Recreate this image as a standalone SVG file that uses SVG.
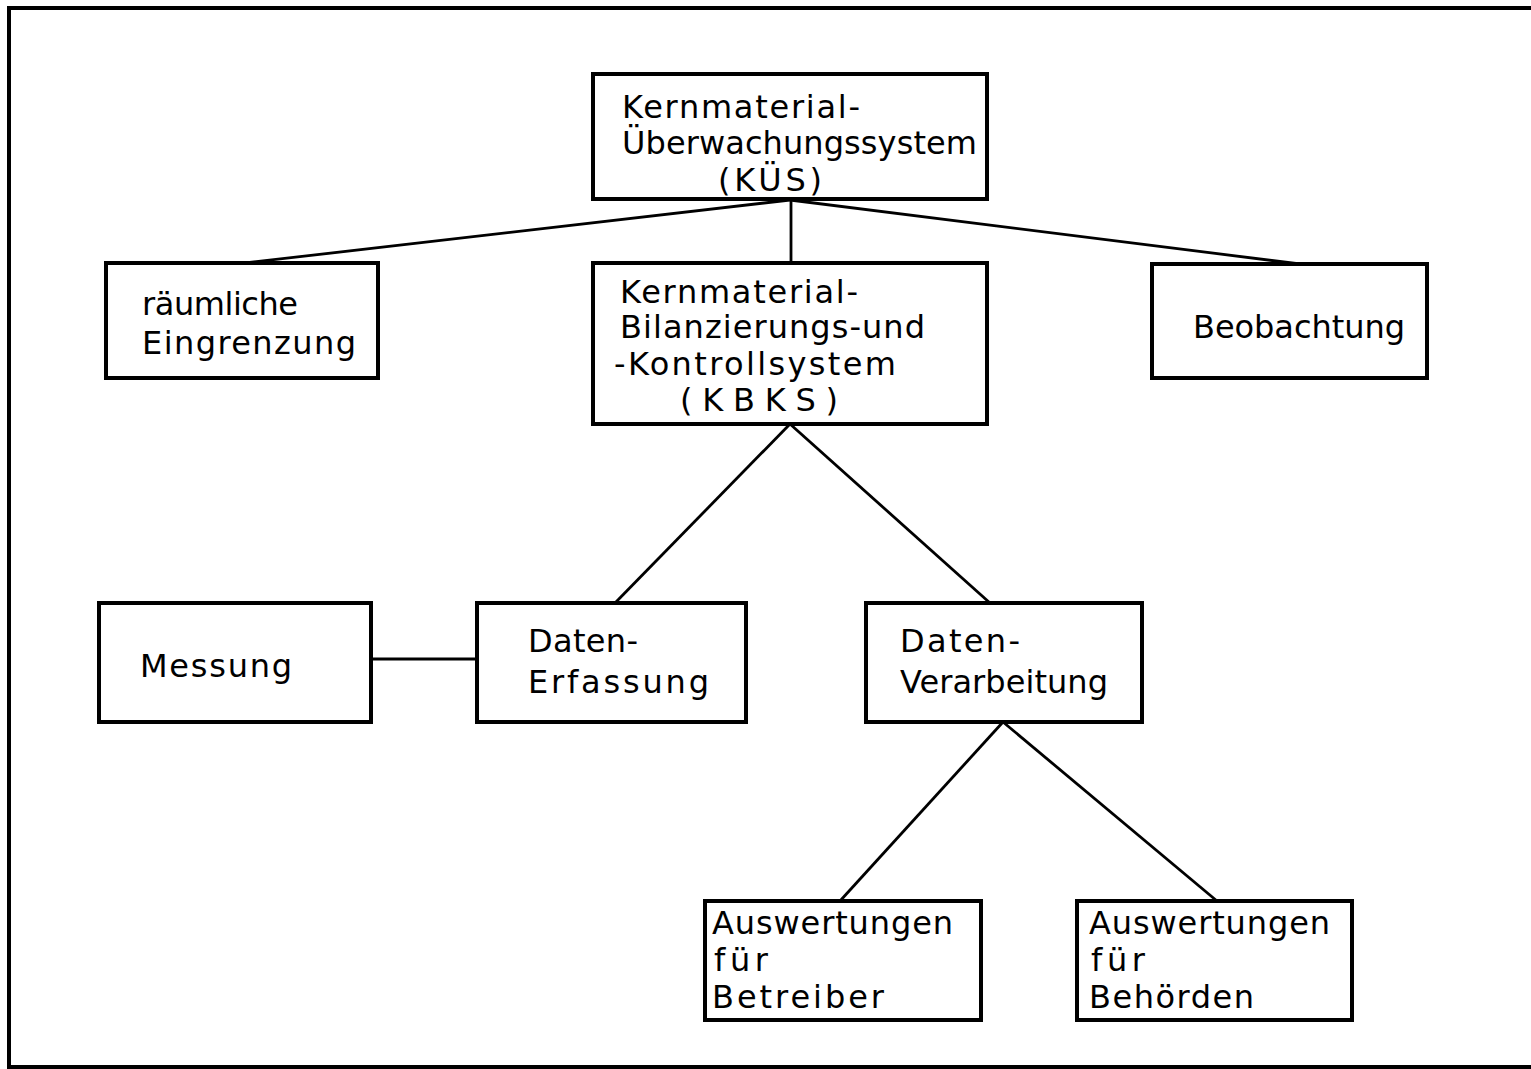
<svg xmlns="http://www.w3.org/2000/svg" width="1531" height="1069" viewBox="0 0 1531 1069">
<style>
.box{fill:#fff;stroke:#000;stroke-width:4}
.lbl{font-family:"DejaVu Sans","Liberation Sans",sans-serif;font-size:32px;fill:#000}
.con{stroke:#000;stroke-width:2.8;fill:none}
.frame{stroke:#000;stroke-width:4;fill:none}
</style>
<rect width="1531" height="1069" fill="#fff"/>
<path class="frame" d="M1531 8 H9 V1067 H1531"/>
<g id="connectors">
<line class="con" x1="790" y1="200" x2="245" y2="263"/>
<line class="con" x1="791" y1="200" x2="791" y2="263"/>
<line class="con" x1="790" y1="200" x2="1300" y2="264"/>
<line class="con" x1="790" y1="424" x2="615" y2="603"/>
<line class="con" x1="790" y1="424" x2="990" y2="603"/>
<line class="con" x1="371" y1="659" x2="477" y2="659"/>
<line class="con" x1="1003" y1="722" x2="840" y2="901"/>
<line class="con" x1="1003" y1="722" x2="1217" y2="901"/>
</g>
<g id="kues">
<rect class="box" x="593" y="74" width="394" height="125"/>
<text class="lbl" x="622" y="118" textLength="238" lengthAdjust="spacing">Kernmaterial-</text>
<text class="lbl" x="622" y="154" textLength="355" lengthAdjust="spacing">Überwachungssystem</text>
<text class="lbl" x="718" y="191" textLength="104" lengthAdjust="spacing">(KÜS)</text>
</g>
<g id="raeumlich">
<rect class="box" x="106" y="263" width="272" height="115"/>
<text class="lbl" x="142" y="315" textLength="156" lengthAdjust="spacing">räumliche</text>
<text class="lbl" x="142" y="354" textLength="214" lengthAdjust="spacing">Eingrenzung</text>
</g>
<g id="kbks">
<rect class="box" x="593" y="263" width="394" height="161"/>
<text class="lbl" x="620" y="303" textLength="238" lengthAdjust="spacing">Kernmaterial-</text>
<text class="lbl" x="620" y="338" textLength="305" lengthAdjust="spacing">Bilanzierungs-und</text>
<text class="lbl" x="614" y="375" textLength="282" lengthAdjust="spacing">-Kontrollsystem</text>
<text class="lbl" x="680" y="411" textLength="158" lengthAdjust="spacing">(KBKS)</text>
</g>
<g id="beobachtung">
<rect class="box" x="1152" y="264" width="275" height="114"/>
<text class="lbl" x="1193" y="338" textLength="212" lengthAdjust="spacing">Beobachtung</text>
</g>
<g id="messung">
<rect class="box" x="99" y="603" width="272" height="119"/>
<text class="lbl" x="140" y="677" textLength="152" lengthAdjust="spacing">Messung</text>
</g>
<g id="erfassung">
<rect class="box" x="477" y="603" width="269" height="119"/>
<text class="lbl" x="528" y="652" textLength="110" lengthAdjust="spacing">Daten-</text>
<text class="lbl" x="528" y="693" textLength="181" lengthAdjust="spacing">Erfassung</text>
</g>
<g id="verarbeitung">
<rect class="box" x="866" y="603" width="276" height="119"/>
<text class="lbl" x="900" y="652" textLength="120" lengthAdjust="spacing">Daten-</text>
<text class="lbl" x="900" y="693" textLength="208" lengthAdjust="spacing">Verarbeitung</text>
</g>
<g id="betreiber">
<rect class="box" x="705" y="901" width="276" height="119"/>
<text class="lbl" x="712" y="934" textLength="241" lengthAdjust="spacing">Auswertungen</text>
<text class="lbl" x="714" y="971" textLength="54" lengthAdjust="spacing">für</text>
<text class="lbl" x="712" y="1008" textLength="172" lengthAdjust="spacing">Betreiber</text>
</g>
<g id="behoerden">
<rect class="box" x="1077" y="901" width="275" height="119"/>
<text class="lbl" x="1089" y="934" textLength="241" lengthAdjust="spacing">Auswertungen</text>
<text class="lbl" x="1091" y="971" textLength="54" lengthAdjust="spacing">für</text>
<text class="lbl" x="1089" y="1008" textLength="165" lengthAdjust="spacing">Behörden</text>
</g>
</svg>
